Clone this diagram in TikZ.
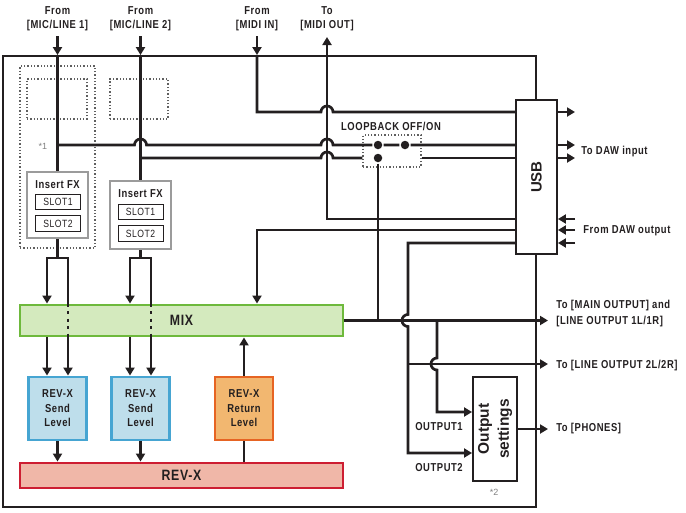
\documentclass[tikz,border=0pt]{standalone}
\usepackage{fontspec}
\setmainfont{Liberation Sans}
\newfontfamily\lbl{Liberation Sans}[FakeStretch=0.82,LetterSpace=5]
\usetikzlibrary{arrows.meta}
\definecolor{ink}{RGB}{35,31,32}
\definecolor{mixfill}{RGB}{212,234,190}
\definecolor{mixline}{RGB}{110,185,60}
\definecolor{sendfill}{RGB}{190,222,235}
\definecolor{sendline}{RGB}{70,165,210}
\definecolor{retfill}{RGB}{242,183,112}
\definecolor{retline}{RGB}{230,100,35}
\definecolor{revfill}{RGB}{240,183,168}
\definecolor{revline}{RGB}{205,30,50}
\definecolor{fxline}{RGB}{155,155,155}
\definecolor{dotgray}{RGB}{95,95,95}

\begin{document}
\begin{tikzpicture}[x=1pt, y=-1pt,
  >={Triangle[length=8pt,width=9pt]}, line width=2.7pt, color=ink,
  every node/.style={font=\lbl\bfseries\fontsize{11.5}{14}\selectfont, inner sep=0pt},
  chassis/.style={draw, line width=1.9pt, minimum width=533pt, minimum height=451pt},
  grp/.style={draw=dotgray, line width=1.3pt, dotted},
  fxbox/.style={draw=fxline, fill=white, line width=2.9pt, minimum width=61pt},
  slot/.style={draw, line width=0.9pt, minimum width=45pt, minimum height=15.5pt, font=\lbl\fontsize{10.5}{12}\selectfont},
  bar/.style={line width=2.9pt, minimum width=323pt, font=\lbl\bfseries\fontsize{15}{16}\selectfont},
  lvl/.style={line width=2.9pt, minimum width=58pt, minimum height=63pt, align=center, font=\lbl\bfseries\fontsize{11.5}{14.5}\selectfont},
  usbbox/.style={draw, fill=white, line width=1.9pt, minimum width=41pt, minimum height=154pt},
  outbox/.style={draw, fill=white, line width=1.9pt, minimum width=44pt, minimum height=104pt},
  jdot/.style={circle, fill=ink, minimum size=8.5pt},
  note/.style={text=gray, font=\rmfamily\fontsize{9}{10}\selectfont},
  thru/.style={dash pattern=on 3pt off 4.5pt}
]
\useasboundingbox (0,0) rectangle (686,512);

\node[chassis] (chassis) at (269.5,281.5) {};
\node[grp, minimum width=75pt, minimum height=182pt] (grp1) at (57.5,157) {};
\node[grp, minimum width=60pt, minimum height=40pt] (pad1) at (57,99) {};
\node[grp, minimum width=58pt, minimum height=40pt] (pad2) at (139,99) {};
\node[grp, minimum width=58pt, minimum height=32pt] (loop) at (392,151) {};

\node[anchor=south, align=center] (inmic1)  at (57.5,32)  {From\\{[MIC/LINE 1]}};
\node[anchor=south, align=center] (inmic2)  at (140.5,32) {From\\{[MIC/LINE 2]}};
\node[anchor=south, align=center] (inmidi)  at (257,32)   {From\\{[MIDI IN]}};
\node[anchor=south, align=center] (outmidi) at (327,32)   {To\\{[MIDI OUT]}};

\node[fxbox, minimum height=66pt] (fx1)  at (57.5,205)   {};
\node                             (fx1t) at (57.5,184.5) {Insert FX};
\node[slot]                       (fx1a) at (58,202)     {SLOT1};
\node[slot]                       (fx1b) at (58,223.5)   {SLOT2};
\node[fxbox, minimum height=68pt] (fx2)  at (140.5,215)  {};
\node                             (fx2t) at (140.5,194)  {Insert FX};
\node[slot]                       (fx2a) at (140.5,212)  {SLOT1};
\node[slot]                       (fx2b) at (140.5,233.5) {SLOT2};

\node[bar, draw=mixline, fill=mixfill, minimum height=31pt] (mix)  at (181.5,320.5) {MIX};
\node[bar, draw=revline, fill=revfill, minimum height=25pt] (revx) at (181.5,475.5) {REV-X};
\node[lvl, draw=sendline, fill=sendfill] (send1) at (57.5,408.5)  {REV-X\\Send\\Level};
\node[lvl, draw=sendline, fill=sendfill] (send2) at (140.5,408.5) {REV-X\\Send\\Level};
\node[lvl, draw=retline, fill=retfill]   (ret)   at (244,408.5)   {REV-X\\Return\\Level};

\node[usbbox] (usb)    at (536.5,177) {};
\node[rotate=90, font=\rmfamily\bfseries\fontsize{15}{18}\selectfont] (usbtxt) at (usb) {USB};
\node[outbox] (outset) at (495,429) {};
\node[rotate=90, align=center, font=\rmfamily\bfseries\fontsize{15.5}{20}\selectfont] (outtxt) at (outset) {Output\\settings};

\node[jdot] (sw1) at (378,145) {};
\node[jdot] (sw2) at (405,145) {};
\node[jdot] (sw3) at (378,158) {};

\node (looplbl) at (391,126) {LOOPBACK OFF/ON};
\node[note] (star1) at (43,146) {*1};
\node[note] (star2) at (494,492) {*2};
\node (lblo1) at (439,427) {OUTPUT1};
\node (lblo2) at (439,468) {OUTPUT2};
\node[anchor=west, align=left, font=\lbl\bfseries\fontsize{11.5}{16}\selectfont] (tomain) at (555,314) {To [MAIN OUTPUT] and\\{[LINE OUTPUT 1L/1R]}};
\node[anchor=west] (toline2)  at (555,366) {To [LINE OUTPUT 2L/2R]};
\node[anchor=west] (tophones) at (555,429) {To [PHONES]};
\node[anchor=west] (todaw)    at (580,152) {To DAW input};
\node[anchor=west] (fromdaw)  at (582,231) {From DAW output};

\coordinate (mi)     at (257,112);
\coordinate (tap1)   at (57.5,145);
\coordinate (tap2)   at (140.5,158);
\coordinate (mo)     at (327,219);
\coordinate (dawmix) at (257,230);
\coordinate (dawout) at (408,243);
\coordinate (sp1)    at (57.5,258);
\coordinate (sp1a)   at (47,258);
\coordinate (sp1b)   at (68,258);
\coordinate (sp2)    at (140.5,258);
\coordinate (sp2a)   at (130,258);
\coordinate (sp2b)   at (151,258);
\coordinate (o1)     at (437,412);
\coordinate (o2)     at (408,453);
\coordinate (usbR)   at (575,0);
\coordinate (outA)   at (548,320.5);
\coordinate (outB)   at (548,364);
\coordinate (outC)   at (548,429);

\draw[->, shorten <=4pt] (inmic1.south) -- (inmic1 |- chassis.north);
\draw[->, shorten <=4pt] (inmic2.south) -- (inmic2 |- chassis.north);
\draw[->, shorten <=4pt] (inmidi.south) -- (inmidi |- chassis.north);
\draw (inmic1 |- chassis.north) -- (fx1.north);
\draw (inmic2 |- chassis.north) -- (fx2.north);

\draw (inmidi |- chassis.north) -- (mi) -- ([xshift=-6pt]mo |- mi) arc[start angle=180, end angle=0, radius=6pt] -- (usb.west |- mi);
\draw[->, shorten >=5pt] (usb.west |- mo) -- (mo) -- (outmidi.south);
\draw (tap1) -- ([xshift=-6pt]fx2 |- tap1) arc[start angle=180, end angle=0, radius=6pt]
  -- ([xshift=-6pt]mo |- tap1) arc[start angle=180, end angle=0, radius=6pt] -- (sw1) -- (sw2) -- (usb.west |- tap1);
\draw (tap2) -- ([xshift=-6pt]mo |- tap2) arc[start angle=180, end angle=0, radius=6pt] -- (loop.west |- tap2);
\draw (loop.east |- tap2) -- (usb.west |- tap2);
\draw (sw3) -- (sw3 |- mix.east);
\draw[->] (usb.west |- dawmix) -- (dawmix) -- (dawmix |- mix.north);
\draw[->] (usb.west |- dawout) -- (dawout) -- ([yshift=6pt]dawout |- mix.east) arc[start angle=90, end angle=270, radius=6pt] -- (o2) -- (o2 -| outset.west);

\draw[->] (usb.east |- mi) -- (usbR |- mi);
\draw[->] (usb.east |- tap1) -- (usbR |- tap1);
\draw[->] (usb.east |- tap2) -- (usbR |- tap2);
\draw[->] (usbR |- mo) -- (usb.east |- mo);
\draw[->] (usbR |- dawmix) -- (usb.east |- dawmix);
\draw[->] (usbR |- dawout) -- (usb.east |- dawout);

\draw[->] (fx1.south) -- (sp1) -- (sp1a) -- (sp1a |- mix.north);
\draw (sp1) -- (sp1b) -- (sp1b |- mix.north);
\draw[thru] (sp1b |- mix.north) -- (sp1b |- mix.south);
\draw[->] (fx2.south) -- (sp2) -- (sp2a) -- (sp2a |- mix.north);
\draw (sp2) -- (sp2b) -- (sp2b |- mix.north);
\draw[thru] (sp2b |- mix.north) -- (sp2b |- mix.south);
\draw[->] (sp1a |- mix.south) -- (sp1a |- send1.north);
\draw[->] (sp1b |- mix.south) -- (sp1b |- send1.north);
\draw[->] (sp2a |- mix.south) -- (sp2a |- send2.north);
\draw[->] (sp2b |- mix.south) -- (sp2b |- send2.north);
\draw[->] (send1.south) -- (send1.south |- revx.north);
\draw[->] (send2.south) -- (send2.south |- revx.north);
\draw (revx.north -| ret) -- (ret.south);
\draw[->] (ret.north) -- (ret |- mix.south);

\draw[->] (mix.east) -- (outA);
\draw[->] (dawout |- outB) -- (outB);
\draw[->] (o1 |- mix.east) -- ([yshift=6pt]o1 |- outB) arc[start angle=90, end angle=270, radius=6pt] -- (o1) -- (o1 -| outset.west);
\draw[->] (outset.east) -- (outC);
\end{tikzpicture}
\end{document}
